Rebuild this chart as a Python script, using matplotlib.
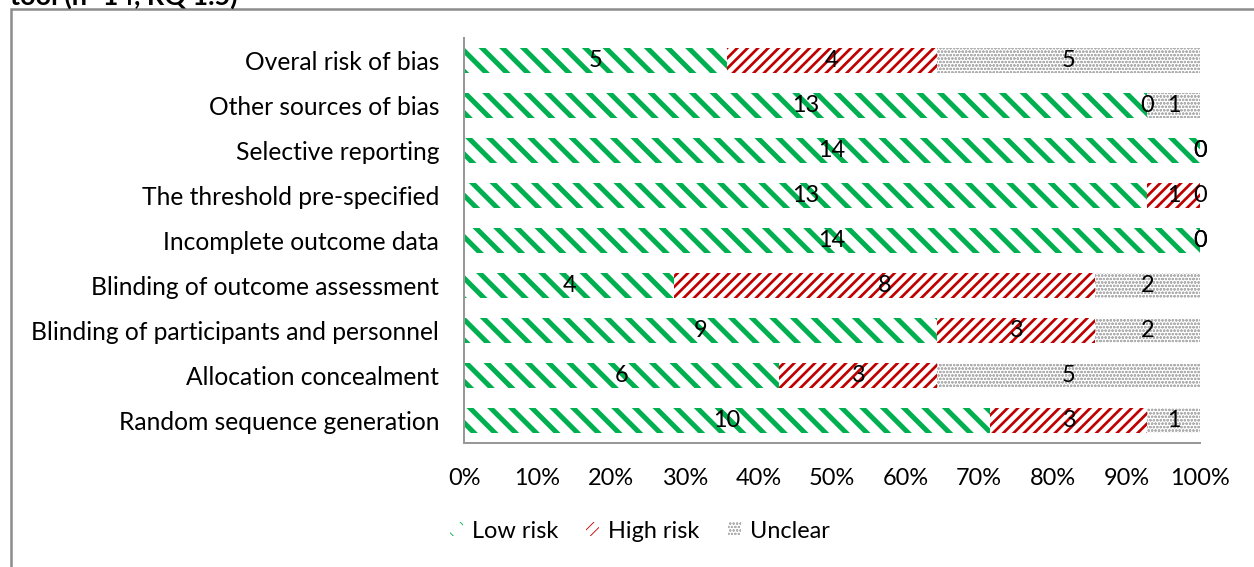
import matplotlib
matplotlib.use("Agg")
import matplotlib.pyplot as plt
from matplotlib.patches import Rectangle, Patch
import numpy as np

categories = [
    "Overal risk of bias",
    "Other sources of bias",
    "Selective reporting",
    "The threshold pre-specified",
    "Incomplete outcome data",
    "Blinding of outcome assessment",
    "Blinding of participants and personnel",
    "Allocation concealment",
    "Random sequence generation",
]
low_risk = [5, 13, 14, 13, 14, 4, 9, 6, 10]
high_risk = [4, 0, 0, 1, 0, 8, 3, 3, 3]
unclear = [5, 1, 0, 0, 0, 2, 2, 5, 1]
series_names = ["Low risk", "High risk", "Unclear"]
tick_labels = ["0%", "10%", "20%", "30%", "40%", "50%", "60%", "70%", "80%", "90%", "100%"]
title_text = "tool (n=14, RQ 1.5)"

# Hatch tiles scale with dpi, so a low dpi with a large canvas gives wider stripes.
DPI = 62
W, H = 1254, 567


def px(v):
    """pixels -> points at the working dpi"""
    return v * 72.0 / DPI


plt.rcParams["font.family"] = ["Lato", "DejaVu Sans"]

GREEN = "#00b050"
RED = "#c00000"
GREY = "#b0b0b0"

styles = [
    dict(hatch="\\", edge=GREEN, face="white", lw=px(5.0)),
    dict(hatch="//", edge=RED, face="white", lw=px(2.7)),
    dict(hatch="ooo", edge=GREY, face="white", lw=px(1.0)),
]

FS_CAT = px(24.6)
FS_TICK = px(23.5)
FS_VAL = px(23.5)

fig = plt.figure(figsize=(W / DPI, H / DPI), dpi=DPI)
ax = fig.add_axes([464 / W, 1 - 443 / H, (1200 - 464) / W, (443 - 38) / H])

data = np.array([low_risk, high_risk, unclear], dtype=float)
totals = data.sum(axis=0)
shares = data / totals * 100
y = np.arange(len(categories))[::-1]

left = np.zeros(len(categories))
for i, st in enumerate(styles):
    with plt.rc_context({"hatch.linewidth": st["lw"]}):
        bars = ax.barh(y, shares[i], left=left, height=0.56,
                       facecolor=st["face"], edgecolor=st["edge"],
                       hatch=st["hatch"], linewidth=0)
        for b in bars:
            if hasattr(b, "set_hatch_linewidth"):
                b.set_hatch_linewidth(st["lw"])
    for yy, l, w, v in zip(y, left, shares[i], data[i]):
        ax.text(l + w / 2, yy, f"{int(v)}", ha="center", va="center",
                fontsize=FS_VAL, color="black")
    left = left + shares[i]

ax.set_xlim(0, 100)
ax.set_ylim(-0.5, len(categories) - 0.5)
ax.set_yticks(y)
ax.set_yticklabels(categories, fontsize=FS_CAT)
ax.set_xticks(np.arange(0, 101, 10))
ax.set_xticklabels(tick_labels, fontsize=FS_TICK)
ax.tick_params(axis="both", length=0)
ax.tick_params(axis="y", pad=px(25))
ax.tick_params(axis="x", pad=px(25))
for s in ["top", "right"]:
    ax.spines[s].set_visible(False)
for s in ["left", "bottom"]:
    ax.spines[s].set_color("#989898")
    ax.spines[s].set_linewidth(px(2))

handles = []
for name, st in zip(series_names, styles):
    with plt.rc_context({"hatch.linewidth": st["lw"]}):
        h = Patch(facecolor=st["face"], edgecolor=st["edge"], hatch=st["hatch"],
                  linewidth=0, label=name)
        if hasattr(h, "set_hatch_linewidth"):
            h.set_hatch_linewidth(st["lw"])
    handles.append(h)
fig.legend(handles=handles, loc="center left", bbox_to_anchor=(450 / W, 1 - 531 / H),
           ncol=3, frameon=False, fontsize=FS_TICK, handlelength=0.55, handleheight=0.55,
           handletextpad=0.38, columnspacing=1.2, borderpad=0, borderaxespad=0)

# chart frame and the tail of the caption above it
fig.patches.append(Rectangle((11 / W, -0.1), 1.2, 1 - 9 / H + 0.1,
                             transform=fig.transFigure, fill=False,
                             edgecolor="#8c8c8c", linewidth=px(2.5)))
fig.text(10 / W, 1 - 5 / H, title_text, ha="left", va="baseline",
         fontsize=px(27), fontweight="bold")

fig.savefig("out.png", dpi=DPI)
